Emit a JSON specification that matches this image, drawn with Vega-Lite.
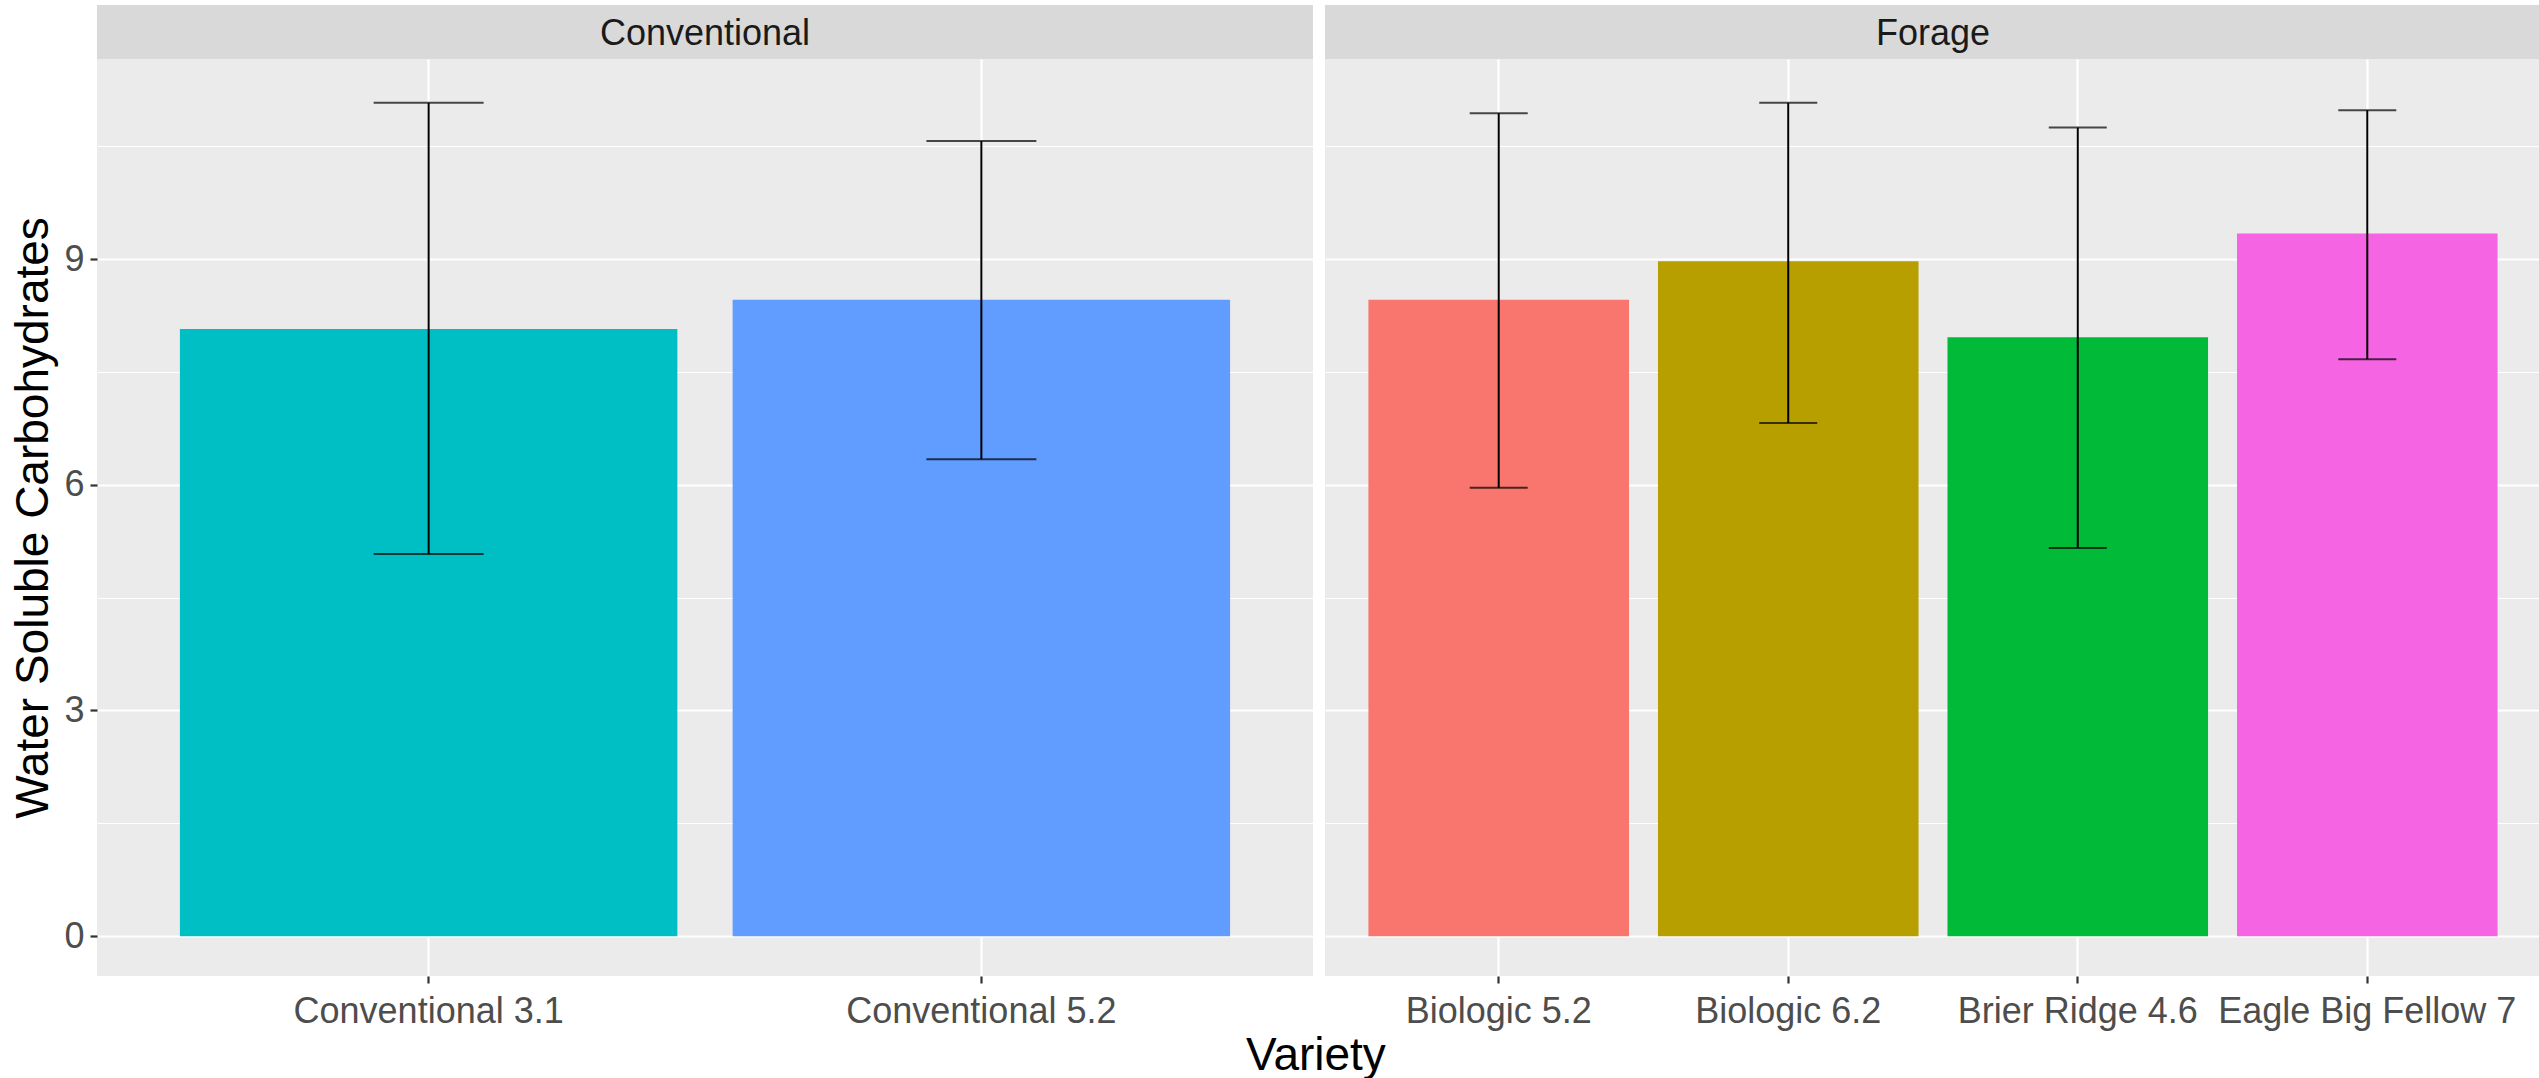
{
  "$schema": "https://vega.github.io/schema/vega-lite/v6.json",
  "background": "white",
  "padding": {"left": 10, "top": 5, "right": 0, "bottom": 0},
  "config": {
    "font": "Liberation Sans",
    "view": {"stroke": null},
    "axis": {
      "domain": false,
      "gridColor": "white",
      "gridOpacity": 1,
      "labelFont": "Liberation Sans",
      "labelFontSize": 36,
      "labelColor": "#4D4D4D",
      "labelLimit": 0,
      "tickColor": "#333333",
      "tickSize": 7,
      "tickWidth": 2.2,
      "titleFont": "Liberation Sans",
      "titleFontSize": 46,
      "titleFontWeight": "normal",
      "titleColor": "black"
    }
  },
  "datasets": {
    "wsc": [
      {"Type": "Conventional", "Variety": "Conventional 3.1", "WSC": 8.07, "lower": 5.08, "upper": 11.08},
      {"Type": "Conventional", "Variety": "Conventional 5.2", "WSC": 8.46, "lower": 6.34, "upper": 10.57},
      {"Type": "Forage", "Variety": "Biologic 5.2", "WSC": 8.46, "lower": 5.96, "upper": 10.94},
      {"Type": "Forage", "Variety": "Biologic 6.2", "WSC": 8.97, "lower": 6.82, "upper": 11.08},
      {"Type": "Forage", "Variety": "Brier Ridge 4.6", "WSC": 7.96, "lower": 5.16, "upper": 10.75},
      {"Type": "Forage", "Variety": "Eagle Big Fellow 7", "WSC": 9.34, "lower": 7.67, "upper": 10.98}
    ]
  },
  "title": {"text": "Variety", "orient": "bottom", "anchor": "middle", "fontSize": 46, "fontWeight": "normal", "color": "black", "font": "Liberation Sans", "offset": 5, "dx": 40},
  "spacing": 12,
  "hconcat": [
    {
      "spacing": 0,
      "vconcat": [
        {
          "width": 1216,
          "height": 54,
          "view": {"fill": "#D9D9D9", "stroke": null},
          "data": {"values": [{"Type": "Conventional"}]},
          "mark": {"type": "text", "fontSize": 36, "color": "#1A1A1A", "baseline": "middle", "align": "center", "dy": 2},
          "encoding": {"text": {"field": "Type"}}
        },
        {
          "width": 1216,
          "height": 917,
          "view": {"fill": "#EBEBEB", "stroke": null},
          "data": {"name": "wsc"},
          "transform": [{"filter": "datum.Type === 'Conventional'"}],
          "layer": [
            {
              "mark": {"type": "bar"},
              "encoding": {
                "x": {"field": "Variety", "type": "nominal", "sort": null,
                      "scale": {"paddingInner": 0.1, "paddingOuter": 0.15},
                      "axis": {"title": null, "bandPosition": 0.5, "grid": true, "gridWidth": 2.2, "labelAngle": 0, "labelPadding": 11}},
                "y": {"field": "WSC", "type": "quantitative",
                      "scale": {"domain": [-0.53, 11.66], "nice": false, "zero": false},
                      "axis": {"title": "Water Soluble Carbohydrates", "values": [0, 3, 6, 9], "grid": true, "gridWidth": 2.2, "labelPadding": 6, "titlePadding": 6}},
                "y2": {"datum": 0},
                "color": {"field": "Variety", "type": "nominal", "legend": null,
                          "scale": {"domain": ["Biologic 5.2", "Biologic 6.2", "Brier Ridge 4.6", "Conventional 3.1", "Conventional 5.2", "Eagle Big Fellow 7"],
                                    "range": ["#F8766D", "#B79F00", "#00BA38", "#00BFC4", "#619CFF", "#F564E3"]}}
              }
            },
            {
              "mark": {"type": "rule", "color": "black", "strokeWidth": 2},
              "encoding": {
                "x": {"field": "Variety", "type": "nominal", "sort": null},
                "y": {"field": "lower", "type": "quantitative",
                      "axis": {"title": null, "values": [1.5, 4.5, 7.5, 10.5], "grid": true, "gridWidth": 1.1, "labels": false, "ticks": false}},
                "y2": {"field": "upper"}
              }
            },
            {
              "mark": {"type": "tick", "color": "black", "thickness": 2, "size": 110},
              "encoding": {
                "x": {"field": "Variety", "type": "nominal", "sort": null},
                "y": {"field": "upper", "type": "quantitative", "axis": null}
              }
            },
            {
              "mark": {"type": "tick", "color": "black", "thickness": 2, "size": 110},
              "encoding": {
                "x": {"field": "Variety", "type": "nominal", "sort": null},
                "y": {"field": "lower", "type": "quantitative", "axis": null}
              }
            }
          ],
          "resolve": {"axis": {"y": "independent"}}
        }
      ]
    },
    {
      "spacing": 0,
      "vconcat": [
        {
          "width": 1216,
          "height": 54,
          "view": {"fill": "#D9D9D9", "stroke": null},
          "data": {"values": [{"Type": "Forage"}]},
          "mark": {"type": "text", "fontSize": 36, "color": "#1A1A1A", "baseline": "middle", "align": "center", "dy": 2},
          "encoding": {"text": {"field": "Type"}}
        },
        {
          "width": 1216,
          "height": 917,
          "view": {"fill": "#EBEBEB", "stroke": null},
          "data": {"name": "wsc"},
          "transform": [{"filter": "datum.Type === 'Forage'"}],
          "layer": [
            {
              "mark": {"type": "bar"},
              "encoding": {
                "x": {"field": "Variety", "type": "nominal", "sort": null,
                      "scale": {"paddingInner": 0.1, "paddingOuter": 0.15},
                      "axis": {"title": null, "bandPosition": 0.5, "grid": true, "gridWidth": 2.2, "labelAngle": 0, "labelPadding": 11}},
                "y": {"field": "WSC", "type": "quantitative",
                      "scale": {"domain": [-0.53, 11.66], "nice": false, "zero": false},
                      "axis": {"title": null, "values": [0, 3, 6, 9], "grid": true, "gridWidth": 2.2, "labels": false, "ticks": false}},
                "y2": {"datum": 0},
                "color": {"field": "Variety", "type": "nominal", "legend": null,
                          "scale": {"domain": ["Biologic 5.2", "Biologic 6.2", "Brier Ridge 4.6", "Conventional 3.1", "Conventional 5.2", "Eagle Big Fellow 7"],
                                    "range": ["#F8766D", "#B79F00", "#00BA38", "#00BFC4", "#619CFF", "#F564E3"]}}
              }
            },
            {
              "mark": {"type": "rule", "color": "black", "strokeWidth": 2},
              "encoding": {
                "x": {"field": "Variety", "type": "nominal", "sort": null},
                "y": {"field": "lower", "type": "quantitative",
                      "axis": {"title": null, "values": [1.5, 4.5, 7.5, 10.5], "grid": true, "gridWidth": 1.1, "labels": false, "ticks": false}},
                "y2": {"field": "upper"}
              }
            },
            {
              "mark": {"type": "tick", "color": "black", "thickness": 2, "size": 58},
              "encoding": {
                "x": {"field": "Variety", "type": "nominal", "sort": null},
                "y": {"field": "upper", "type": "quantitative", "axis": null}
              }
            },
            {
              "mark": {"type": "tick", "color": "black", "thickness": 2, "size": 58},
              "encoding": {
                "x": {"field": "Variety", "type": "nominal", "sort": null},
                "y": {"field": "lower", "type": "quantitative", "axis": null}
              }
            }
          ],
          "resolve": {"axis": {"y": "independent"}}
        }
      ]
    }
  ]
}
